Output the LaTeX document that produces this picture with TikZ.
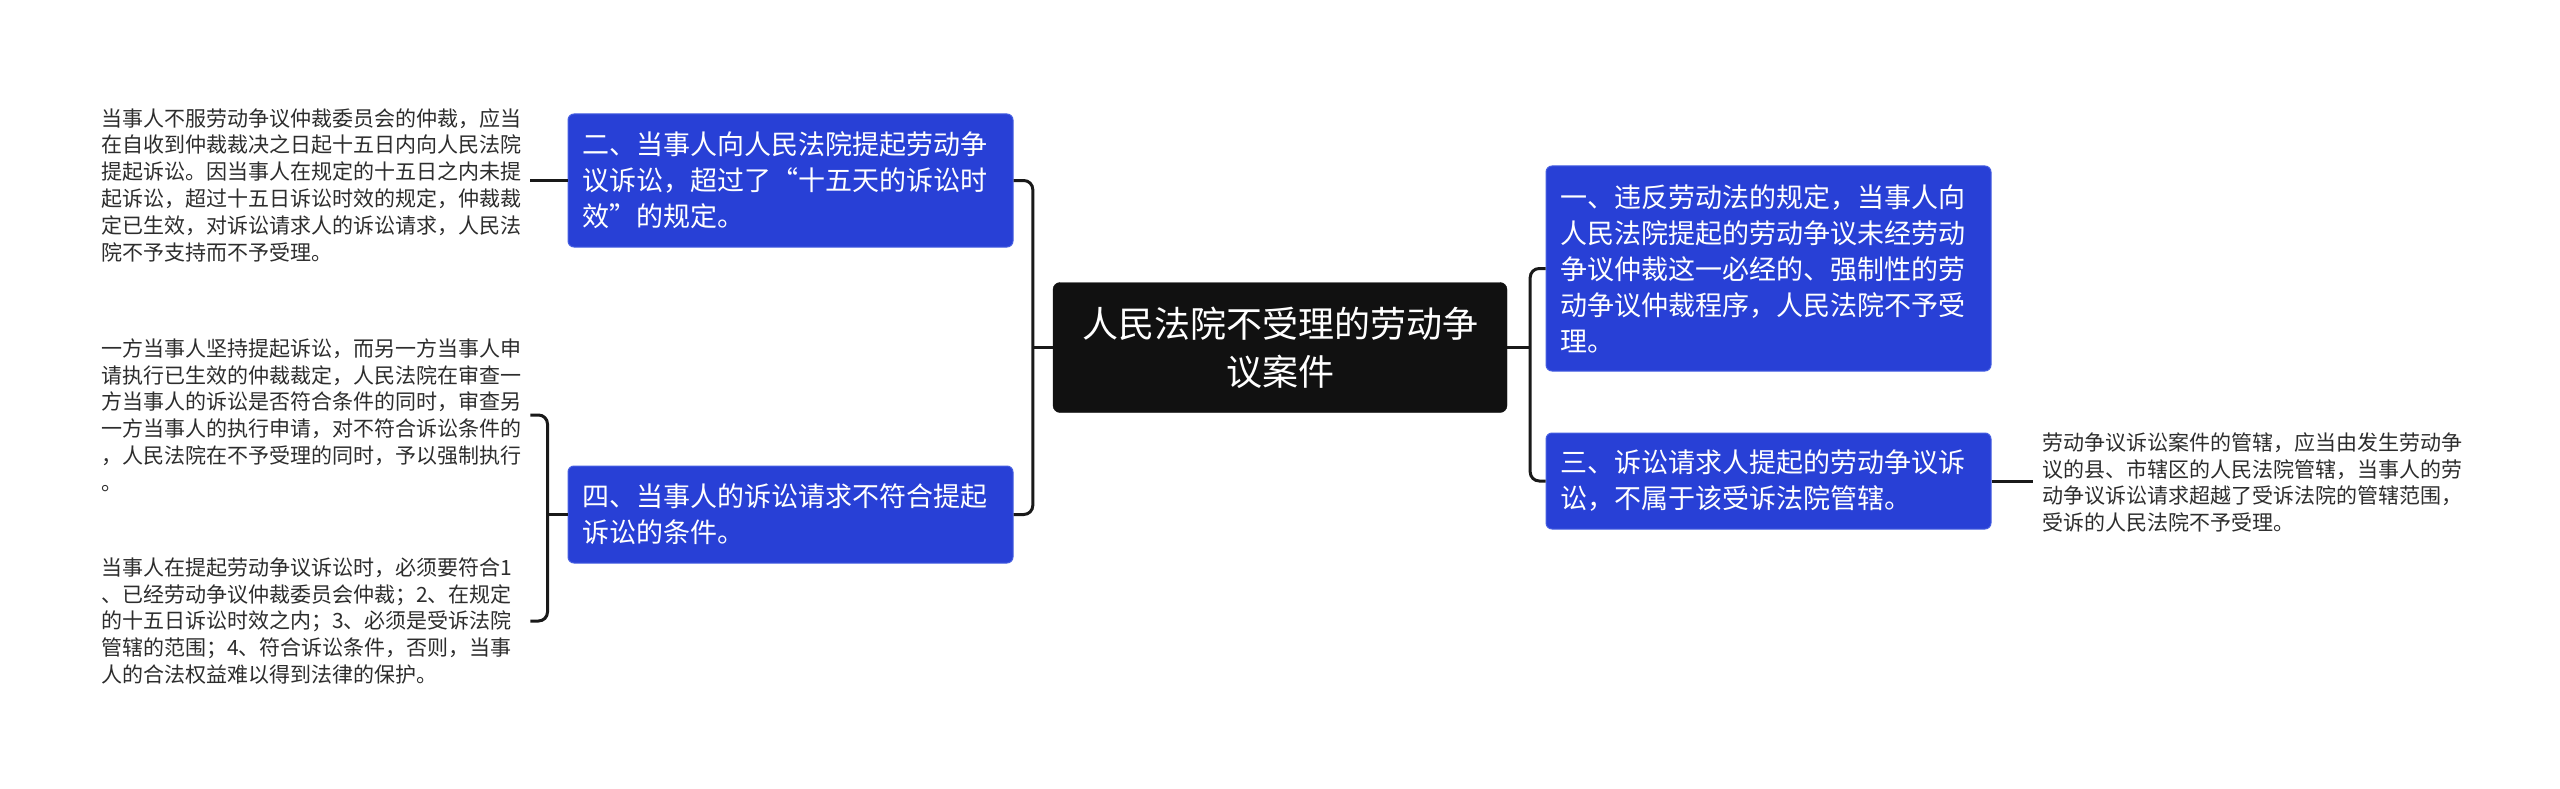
\documentclass[tikz,border=0pt]{standalone}
\usepackage{fontspec}
\setmainfont{Noto Sans CJK SC}
\usetikzlibrary{calc}
\definecolor{bblue}{RGB}{40,64,214}
\definecolor{bedge}{RGB}{70,95,225}
\definecolor{rootblack}{RGB}{17,17,17}
\definecolor{leafgray}{RGB}{45,45,45}
\definecolor{connc}{RGB}{25,25,25}
\begin{document}
\begin{tikzpicture}[x=1pt,y=-1pt,
  rootbox/.style={fill=rootblack, draw=rootblack, rounded corners=7pt, text=white,
    font=\fontsize{36}{48}\selectfont, align=center, minimum width=454pt, minimum height=130pt, inner sep=0pt},
  branchbox/.style={fill=bblue, draw=bedge, line width=1pt, rounded corners=6pt, text=white,
    font=\fontsize{27}{36}\selectfont, align=left, text width=417pt, inner xsep=14pt, inner ysep=0pt},
  leafnode/.style={text=leafgray, font=\fontsize{21}{26.8}\selectfont, align=left,
    text width=420pt, inner xsep=9pt, inner ysep=2pt},
  conn/.style={draw=connc, line width=3pt, rounded corners=9pt}
]
\useasboundingbox (0,0) rectangle (2560,789);
\fill[white] (0,0) rectangle (2560,789);

\node[rootbox] (root) at (1280,347.5) {人民法院不受理的劳动争\\议案件};

\node[branchbox, minimum height=133pt] (br2) at (790.5,180.5)
  {二、当事人向人民法院提起劳动争\\议诉讼，超过了“十五天的诉讼时\\效”的规定。};
\node[branchbox, minimum height=97pt] (br4) at (790.5,514.5)
  {四、当事人的诉讼请求不符合提起\\诉讼的条件。};
\node[branchbox, minimum height=205pt] (br1) at (1768.5,268.5)
  {一、违反劳动法的规定，当事人向\\人民法院提起的劳动争议未经劳动\\争议仲裁这一必经的、强制性的劳\\动争议仲裁程序，人民法院不予受\\理。};
\node[branchbox, minimum height=96pt] (br3) at (1768.5,481)
  {三、诉讼请求人提起的劳动争议诉\\讼，不属于该受诉法院管辖。};

\node[leafnode, anchor=west] (lf1) at (92,185)
  {当事人不服劳动争议仲裁委员会的仲裁，应当\\在自收到仲裁裁决之日起十五日内向人民法院\\提起诉讼。因当事人在规定的十五日之内未提\\起诉讼，超过十五日诉讼时效的规定，仲裁裁\\定已生效，对诉讼请求人的诉讼请求，人民法\\院不予支持而不予受理。};
\node[leafnode, anchor=west] (lf2) at (92,415)
  {一方当事人坚持提起诉讼，而另一方当事人申\\请执行已生效的仲裁裁定，人民法院在审查一\\方当事人的诉讼是否符合条件的同时，审查另\\一方当事人的执行申请，对不符合诉讼条件的\\，人民法院在不予受理的同时，予以强制执行\\。};
\node[leafnode, anchor=west] (lf3) at (92,621)
  {当事人在提起劳动争议诉讼时，必须要符合1\\、已经劳动争议仲裁委员会仲裁；2、在规定\\的十五日诉讼时效之内；3、必须是受诉法院\\管辖的范围；4、符合诉讼条件，否则，当事\\人的合法权益难以得到法律的保护。};
\node[leafnode, anchor=west] (lf4) at (2033,482.5)
  {劳动争议诉讼案件的管辖，应当由发生劳动争\\议的县、市辖区的人民法院管辖，当事人的劳\\动争议诉讼请求超越了受诉法院的管辖范围，\\受诉的人民法院不予受理。};

\coordinate (jl) at ($(root.west)+(-20,0)$);
\coordinate (jr) at ($(root.east)+(23,0)$);
\coordinate (j4) at ($(br4.west)+(-20,0)$);

\draw[conn] (root.west) -- (jl);
\draw[conn] (br2.east) -| (jl) |- (br4.east);
\draw[conn] (root.east) -- (jr);
\draw[conn] (br1.west) -| (jr) |- (br3.west);
\draw[conn] (br2.west) -- (lf1.east |- br2.west);
\draw[conn] (br4.west) -- (j4);
\draw[conn] (lf2.east) -| (j4) |- (lf3.east);
\draw[conn] (br3.east) -- (lf4.west |- br3.east);
\end{tikzpicture}
\end{document}
